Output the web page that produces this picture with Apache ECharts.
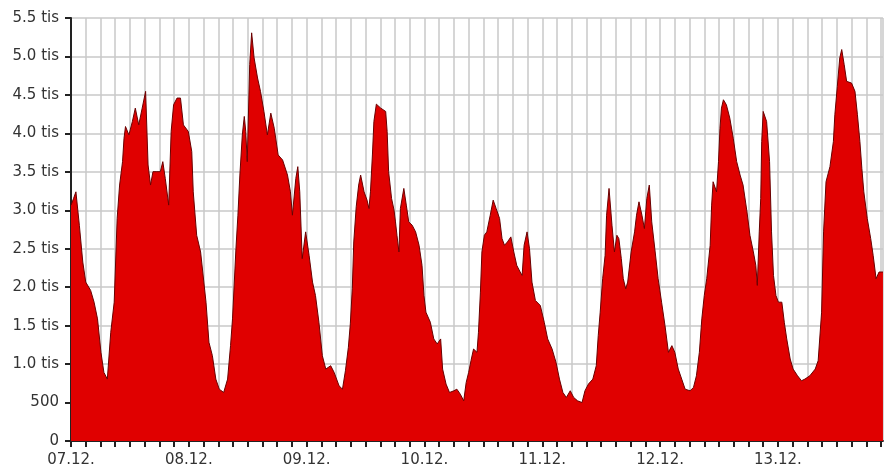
<!DOCTYPE html>
<html>
<head>
<meta charset="utf-8">
<script src="https://cdn.jsdelivr.net/npm/echarts@6/dist/echarts.min.js"></script>
<style>
html,body{margin:0;padding:0;background:#fff;}
#chart{width:884px;height:468px;}
</style>
</head>
<body>
<div id="chart"></div>
<script>
// hours since 07.12. 00:00
var hours = [
0,0.5,1,1.7,2.4,3,4,4.7,5.4,6.1,6.7,7.4,7.8,8.1,8.8,9.4,9.9,10.5,10.8,11.1,11.8,12.5,13.1,13.8,14.5,15.2,15.7,16.2,16.7,17.5,18.2,18.7,19.2,19.9,20.4,20.9,21.6,22.3,22.9,23.9,24.6,24.9,25.6,
26.4,27.5,28.1,28.8,29.5,30.2,31.1,31.9,32.5,32.9,33.6,34.0,34.4,34.9,35.3,35.6,35.9,36.4,36.8,37.3,38.0,38.6,39.3,40.0,40.7,41.4,42.2,43.1,44.1,44.7,45.1,45.8,46.2,46.6,47.1,47.8,48.5,49.2,49.8,50.5,51.2,51.9,52.9,53.6,
54.6,55.3,55.9,56.5,56.9,57.3,57.6,58.1,58.6,59.0,59.7,60.3,60.7,61.0,61.4,61.7,62.2,63.1,64.1,64.4,64.7,65.3,65.8,66.1,66.4,66.8,67.1,67.8,68.3,68.8,69.5,70.2,70.9,71.5,71.9,72.3,73.2,73.9,74.6,75.3,75.7,76.4,77.1,78.0,78.6,79.3,80.0,80.5,81.0,
81.5,82.0,82.7,83.0,83.4,83.7,84.2,84.7,85.4,86.0,86.6,87.3,87.8,88.3,88.9,89.6,90.2,90.8,91.5,91.9,92.3,92.9,93.4,93.9,94.6,95.6,96.4,97.1,98.0,98.8,99.5,100.2,100.9,101.7,102.4,103.2,104.1,104.7,105.4,106.3,107.0,107.4,107.8,108.3,108.8,
109.1,109.6,110.2,110.7,111.2,111.6,112.1,112.5,113.0,113.4,114.1,114.8,115.2,115.7,116.3,116.8,117.3,117.8,118.3,119.0,119.6,120.3,121.0,121.7,122.4,123.0,123.7,124.4,125.1,126.1,126.8,127.4,128.0,128.5,129.0,129.5,130.2,130.5,130.8,131.5,131.9,132.2,132.5,132.9,133.5,134.2,134.9,135.6,136.3,136.9,
137.7,138.3,139.0,139.5,139.8,140.2,140.5,140.7,141.0,141.7,142.3,142.7,143.1,143.6,144.1,144.8,145.3,145.8,146.5,147.1,148.0,148.8,149.5,150.5,151.6,152.2,152.9,153.3,153.8,154.6,155.3,155.6,156.1,156.6,157.0,157.5,158.0,159.0,159.7,160.2,160.7,161.1,161.5,162.2,162.9,163.4,164.0,164.6,165.4
];
var visitors = [
3067,3150,3240,2805,2327,2066,1958,1805,1588,1153,892,805,830,1414,1805,2893,3328,3632,3937,4089,3980,4154,4328,4110,4328,4546,3589,3328,3502,3502,3502,3632,3415,3067,4024,4372,4459,4459,4110,4024,3763,3240,2675,
2458,1805,1283,1109,805,674,631,805,1240,1588,2501,2936,3458,3980,4220,4024,3632,4894,5307,4981,4720,4546,4285,3980,4263,4067,3719,3654,3458,3240,2936,3415,3567,3240,2371,2719,2414,2066,1892,1544,1109,935,979,892,
718,674,913,1218,1523,1979,2588,3045,3328,3458,3240,3132,3023,3240,3719,4154,4380,4328,4285,4024,3502,3154,3002,2849,2675,2458,3023,3284,3067,2849,2806,2719,2545,2284,1892,1675,1544,1327,1262,1327,935,740,631,653,674,609,522,761,892,
1050,1196,1153,1414,1936,2458,2675,2719,2936,3132,3023,2893,2632,2545,2588,2654,2458,2284,2197,2153,2545,2719,2501,2066,1827,1762,1544,1327,1196,1022,805,631,566,653,566,522,500,653,740,805,979,1370,1675,2110,2414,
2936,3284,2806,2458,2675,2632,2371,2110,1979,2066,2458,2719,2936,3110,2936,2762,3154,3328,2849,2458,2110,1805,1500,1153,1240,1153,935,805,674,653,696,848,1153,1588,1892,2110,2545,3067,3371,3240,3632,4067,4328,4437,4372,4198,3937,3632,3458,3328,
2980,2675,2458,2284,2023,2719,3154,3893,4285,4154,3632,2719,2153,1892,1805,1805,1544,1327,1066,935,848,783,805,848,935,1044,1675,2719,3371,3567,3893,4242,4611,4981,5090,4894,4676,4654,4546,4242,3893,3545,3240,2893,2632,2414,2110,2197,2197
];
var dayLabels = ['07.12.','08.12.','09.12.','10.12.','11.12.','12.12.','13.12.'];
var yTickLabels = ['0','500','1.0 tis','1.5 tis','2.0 tis','2.5 tis','3.0 tis','3.5 tis','4.0 tis','4.5 tis','5.0 tis','5.5 tis'];

var seriesData = hours.map(function(h,i){ return [h, visitors[i]]; });

var chart = echarts.init(document.getElementById('chart'));
var labelFont = {fontFamily:'DejaVu Sans', fontSize:15, color:'#333'};
chart.setOption({
  animation:false,
  backgroundColor:'#ffffff',
  grid:{left:71, right:0, top:18, bottom:27},
  xAxis:{
    type:'value', min:0, max:165.4, interval:3,
    axisLine:{show:true, lineStyle:{color:'#222', width:2}},
    axisTick:{show:true, length:6, lineStyle:{color:'#222', width:2}},
    splitLine:{show:true, lineStyle:{color:'#c8c8c8', width:1.5}},
    axisLabel:Object.assign({margin:12, showMaxLabel:false,
      formatter:function(v){ return (Math.abs(v % 24) < 1e-6) ? (dayLabels[Math.round(v/24)] || '') : ''; }
    }, labelFont)
  },
  yAxis:{
    type:'value', min:0, max:5500, interval:500,
    axisLine:{show:true, lineStyle:{color:'#222', width:2}},
    axisTick:{show:true, length:6, lineStyle:{color:'#222', width:2}},
    splitLine:{show:true, lineStyle:{color:'#c8c8c8', width:1.5}},
    axisLabel:Object.assign({margin:12,
      formatter:function(v){ return yTickLabels[Math.round(v/500)] || ''; }
    }, labelFont)
  },
  series:[{
    type:'line',
    data:seriesData,
    showSymbol:false,
    symbol:'none',
    lineStyle:{color:'#6a0000', width:1},
    areaStyle:{color:'#e00000', opacity:1},
    z:3
  }]
});
</script>
</body>
</html>
